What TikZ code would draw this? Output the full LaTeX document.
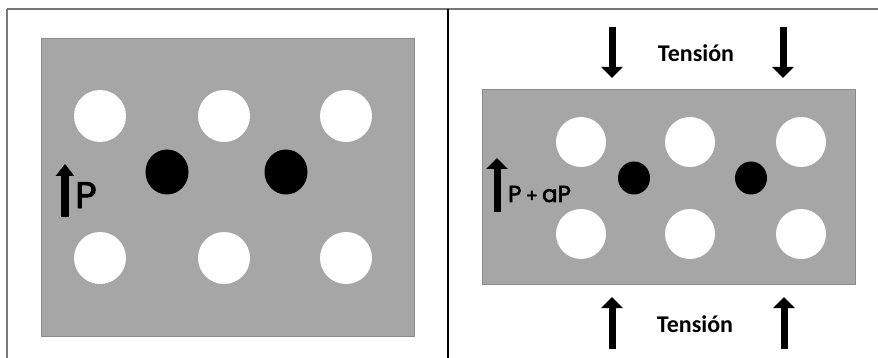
\documentclass[tikz,border=0pt]{standalone}
\usepackage{fontspec}
\setmainfont{Carlito}
\newfontfamily\geofont[FakeBold=2.5]{Poppins}
\usetikzlibrary{arrows.meta,shapes.geometric}
\definecolor{plate}{RGB}{166,166,166}
\definecolor{plateedge}{RGB}{140,140,140}
\definecolor{framegray}{RGB}{120,120,120}
\tikzset{
  plateshape/.style={fill=plate, draw=plateedge, line width=0.8pt},
  hole/.style={circle, fill=white, draw=none, inner sep=0pt, minimum size=#1},
  pin/.style={ellipse, fill=black, draw=none, inner sep=0pt},
  force/.style={line width=7pt, -{Triangle[length=11pt,width=21pt]}},
  load/.style={line width=8pt, -{Triangle[length=12pt,width=18pt]}},
  tlabel/.style={font=\bfseries\fontsize{24}{24}\selectfont, inner sep=0pt},
  plabel/.style={font=\geofont\fontsize{#1}{#1}\selectfont, inner sep=0pt, anchor=base west}
}
\begin{document}
\begin{tikzpicture}[x=1pt,y=-1pt]
\useasboundingbox (0,0) rectangle (878,358);
% table frame
\draw[framegray, line width=1.5pt] (7,9) -- (878,9);
\draw[framegray, line width=1.5pt] (7,9) -- (7,358);
\draw[black, line width=1.5pt] (448,9) -- (448,358);

% left plate
\draw[plateshape] (41,38) rectangle (414,336);
\foreach \n/\x/\y in {a/100/116, b/224/116, c/346/116, d/100/258, e/224/258, f/346/258}
  \node[hole=52pt] (L\n) at (\x,\y) {};
\node[pin, minimum width=43pt, minimum height=45pt] (Lp1) at (167,172) {};
\node[pin, minimum width=43pt, minimum height=45pt] (Lp2) at (286,172) {};
\coordinate (Pfoot) at (65,217);
\coordinate (Ptip) at (65,164);
\draw[load] (Pfoot) -- (Ptip);
\node[plabel=37] (Plab) at (75,208) {P};

% right plate
\draw[plateshape] (482,89) rectangle (855,284);
\foreach \n/\x/\y in {a/581/142, b/690/142, c/801/142, d/581/234, e/690/234, f/801/234}
  \node[hole=50pt] (R\n) at (\x,\y) {};
\node[pin, minimum width=32pt, minimum height=33pt] (Rp1) at (634,178) {};
\node[pin, minimum width=32pt, minimum height=33pt] (Rp2) at (751,178) {};
\coordinate (Qfoot) at (497,212);
\coordinate (Qtip) at (497,158);
\draw[force] (Qfoot) -- (Qtip);
\node[plabel=23] (Qlab) at (508,202) {P\hspace{0.18em}{\fontsize{18}{18}\selectfont+}\hspace{0.18em}aP};

% tension loads
\coordinate (t1s) at (612,27);  \coordinate (t1e) at (612,78);
\coordinate (t2s) at (783,27);  \coordinate (t2e) at (783,78);
\coordinate (b1s) at (612,349); \coordinate (b1e) at (612,297);
\coordinate (b2s) at (784,349); \coordinate (b2e) at (784,297);
\draw[force] (t1s) -- (t1e);
\draw[force] (t2s) -- (t2e);
\draw[force] (b1s) -- (b1e);
\draw[force] (b2s) -- (b2e);
\node[tlabel] (ttop) at (696,53) {Tensión};
\node[tlabel] (tbot) at (695,324) {Tensión};
\end{tikzpicture}
\end{document}
